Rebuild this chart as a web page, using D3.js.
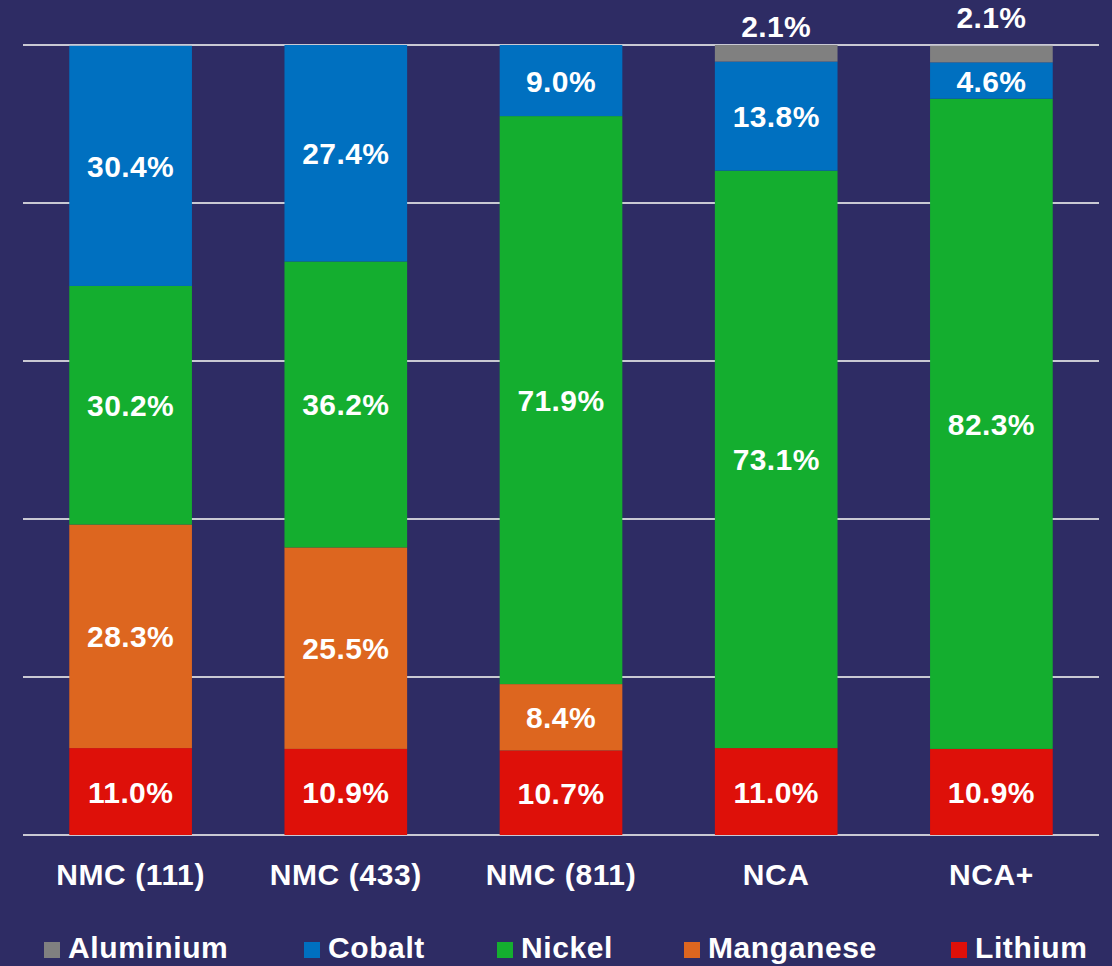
<!DOCTYPE html>
<html>
<head>
<meta charset="utf-8">
<script src="https://cdn.jsdelivr.net/npm/d3@7"></script>
<style>
  html, body { margin: 0; padding: 0; background: #2e2c64; }
  svg { display: block; }
  text { font-family: "Liberation Sans", Arial, sans-serif; font-weight: bold; fill: #fff; }
</style>
</head>
<body>
<svg id="chart"></svg>
<script>
// chemistries and metal shares (% by weight)
const categories = ["NMC (111)", "NMC (433)", "NMC (811)", "NCA", "NCA+"];
const metals = ["Lithium", "Manganese", "Nickel", "Cobalt", "Aluminium"];
const lithium   = [11.0, 10.9, 10.7, 11.0, 10.9];
const manganese = [28.3, 25.5, 8.4, 0, 0];
const nickel    = [30.2, 36.2, 71.9, 73.1, 82.3];
const cobalt    = [30.4, 27.4, 9.0, 13.8, 4.6];
const aluminium = [0, 0, 0, 2.1, 2.1];
const yTicks = [0, 20, 40, 60, 80, 100];
const legendOrder = ["Aluminium", "Cobalt", "Nickel", "Manganese", "Lithium"];

const colors = {
    Lithium: "#de1009",
    Manganese: "#dd661f",
    Nickel: "#14ae2f",
    Cobalt: "#0070c0",
    Aluminium: "#808080"
};

const width = 1112, height = 966;
const margin = {left: 23, right: 13, top: 45, bottom: 131};

const svg = d3.select("#chart")
    .attr("width", width)
    .attr("height", height);

// table for the stack
const rows = categories.map((c, i) => ({
    cat: c,
    Lithium: lithium[i],
    Manganese: manganese[i],
    Nickel: nickel[i],
    Cobalt: cobalt[i],
    Aluminium: aluminium[i]
}));

const x = d3.scaleBand()
    .domain(categories)
    .range([margin.left, width - margin.right])
    .paddingInner(0.43)
    .paddingOuter(0.215);

const y = d3.scaleLinear()
    .domain([0, 100])
    .range([height - margin.bottom, margin.top]);

// gridlines
svg.append("g")
    .selectAll("line")
    .data(yTicks)
    .enter()
    .append("line")
    .attr("x1", margin.left)
    .attr("x2", width - margin.right)
    .attr("y1", d => y(d))
    .attr("y2", d => y(d))
    .attr("stroke", "#c9c9d3")
    .attr("stroke-width", 2);

const series = d3.stack().keys(metals)(rows);

const layers = svg.append("g")
    .selectAll("g")
    .data(series)
    .enter()
    .append("g")
    .attr("fill", d => colors[d.key]);

layers.selectAll("rect")
    .data(d => d.filter(s => s[1] - s[0] > 0))
    .enter()
    .append("rect")
    .attr("x", d => x(d.data.cat))
    .attr("width", x.bandwidth())
    .attr("y", d => y(d[1]))
    .attr("height", d => y(d[0]) - y(d[1]));

// value labels
layers.each(function(s) {
    d3.select(this).selectAll("text")
        .data(s.filter(p => p[1] - p[0] > 0))
        .enter()
        .append("text")
        .attr("text-anchor", "middle")
        .style("font-size", "30px")
        .style("letter-spacing", "0.4px")
        .attr("x", d => x(d.data.cat) + x.bandwidth() / 2)
        .attr("y", d => {
            if (s.key === "Aluminium") {
                // aluminium sits above the bar
                let lift = d.data.cat === "NCA+" ? 17 : 8;
                return y(100) - lift;
            }
            return (y(d[0]) + y(d[1])) / 2 + 11;
        })
        .text(d => (d[1] - d[0]).toFixed(1) + "%");
});

// category axis
const xAxis = d3.axisBottom(x).tickSize(0).tickPadding(0);
const gx = svg.append("g")
    .attr("transform", "translate(0," + y(0) + ")")
    .call(xAxis);
gx.select(".domain").remove();
gx.selectAll("text")
    .attr("y", 50)
    .attr("dy", 0)
    .attr("fill", "#fff")
    .style("font-family", "'Liberation Sans', Arial, sans-serif")
    .style("font-weight", "bold")
    .style("font-size", "30px")
    .style("letter-spacing", "0.6px");

// legend
const legendX = [44, 304, 497, 684, 951];
const legend = svg.append("g")
    .selectAll("g")
    .data(legendOrder)
    .enter()
    .append("g")
    .attr("transform", (d, i) => "translate(" + legendX[i] + ",942)");

legend.append("rect")
    .attr("width", 16)
    .attr("height", 16)
    .attr("fill", d => colors[d]);

legend.append("text")
    .attr("x", 24)
    .attr("y", 16)
    .style("font-size", "30px")
    .style("letter-spacing", "0.6px")
    .text(d => d);
</script>
</body>
</html>
